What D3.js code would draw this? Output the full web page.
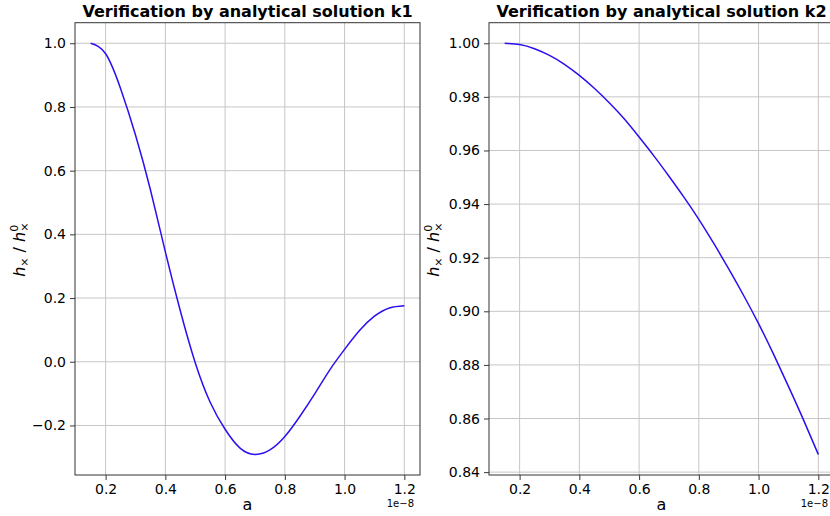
<!DOCTYPE html>
<html>
<head>
<meta charset="utf-8">
<script src="https://cdn.jsdelivr.net/npm/d3@7"></script>
<style>
  html, body { margin: 0; padding: 0; background: #fff; }
  #chart { width: 830px; height: 516px; }
  text { font-family: "DejaVu Sans", sans-serif; fill: #000; }
</style>
</head>
<body>
<div id="chart"></div>
<script>
// a values in units of 1e-8
const aValues = [0.15, 0.20, 0.25, 0.30, 0.35, 0.40, 0.45, 0.50, 0.55, 0.60, 0.65,
                 0.70, 0.75, 0.80, 0.85, 0.90, 0.95, 1.00, 1.05, 1.10, 1.15, 1.20];

const k1Values = [1.000, 0.967, 0.858, 0.712, 0.540, 0.345, 0.160, -0.003, -0.127, -0.212, -0.271,
                  -0.291, -0.277, -0.235, -0.172, -0.101, -0.026, 0.039, 0.098, 0.143, 0.169, 0.176];

const k2Values = [1.0000, 0.9995, 0.99795, 0.99545, 0.99215, 0.9880, 0.9832, 0.9778, 0.9718, 0.9650, 0.9579,
                  0.9504, 0.9426, 0.9343, 0.9253, 0.9158, 0.9059, 0.8954, 0.8840, 0.8720, 0.8596, 0.8466];

const xTicks = [0.2, 0.4, 0.6, 0.8, 1.0, 1.2];
const k1Ticks = [-0.2, 0.0, 0.2, 0.4, 0.6, 0.8, 1.0];
const k2Ticks = [0.84, 0.86, 0.88, 0.90, 0.92, 0.94, 0.96, 0.98, 1.00];

const panels = [
  { title: "Verification by analytical solution k1", values: k1Values, ticks: k1Ticks, fmt: ".1f", left: 75 },
  { title: "Verification by analytical solution k2", values: k2Values, ticks: k2Ticks, fmt: ".2f", left: 489 }
];

const W = 830, H = 516;
const plotW = 345, plotTop = 22.7, plotBottom = 475;

const svg = d3.select("#chart")
  .append("svg")
  .attr("width", W)
  .attr("height", H)
  .attr("viewBox", `0 0 ${W} ${H}`);

// matplotlib style 5% margins
function padded(ext) {
  const p = (ext[1] - ext[0]) * 0.05;
  return [ext[0] - p, ext[1] + p];
}

const minus = s => s.replace("-", "\u2212");

panels.forEach(p => {
  const x = d3.scaleLinear().domain(padded(d3.extent(aValues))).range([p.left, p.left + plotW]);
  const y = d3.scaleLinear().domain(padded(d3.extent(p.values))).range([plotBottom, plotTop]);
  const fmt = d3.format(p.fmt);

  const g = svg.append("g");

  // grid
  g.append("g").selectAll("line")
    .data(xTicks)
    .join("line")
    .attr("x1", d => x(d)).attr("x2", d => x(d))
    .attr("y1", plotTop).attr("y2", plotBottom)
    .attr("stroke", "#c6c6c6").attr("stroke-width", 1);

  g.append("g").selectAll("line")
    .data(p.ticks)
    .join("line")
    .attr("x1", p.left).attr("x2", p.left + plotW)
    .attr("y1", d => y(d)).attr("y2", d => y(d))
    .attr("stroke", "#c6c6c6").attr("stroke-width", 1);

  // curve
  const line = d3.line()
    .x((d, i) => x(aValues[i]))
    .y(d => y(d))
    .curve(d3.curveNatural);

  g.append("path")
    .datum(p.values)
    .attr("d", line)
    .attr("fill", "none")
    .attr("stroke", "#2a10f0")
    .attr("stroke-width", 1.5);

  // axes
  const xAxis = g.append("g")
    .attr("transform", `translate(0,${plotBottom})`)
    .call(d3.axisBottom(x).tickValues(xTicks).tickFormat(d3.format(".1f")).tickSize(5).tickPadding(4));

  const yAxis = g.append("g")
    .attr("transform", `translate(${p.left},0)`)
    .call(d3.axisLeft(y).tickValues(p.ticks).tickFormat(d => minus(fmt(d))).tickSize(5).tickPadding(4));

  [xAxis, yAxis].forEach(ax => {
    ax.select(".domain").remove();
    ax.selectAll("line").attr("stroke", "#222").attr("stroke-width", 0.9);
    ax.selectAll("text").style("font-size", "14px").attr("fill", "#000");
  });

  // frame
  g.append("rect")
    .attr("x", p.left).attr("y", plotTop)
    .attr("width", plotW).attr("height", plotBottom - plotTop)
    .attr("fill", "none")
    .attr("stroke", "#333")
    .attr("stroke-width", 1);

  // title
  g.append("text")
    .attr("x", p.left + plotW / 2)
    .attr("y", 17)
    .attr("text-anchor", "middle")
    .style("font-size", "16px")
    .style("font-weight", "bold")
    .text(p.title);

  // x label and offset
  g.append("text")
    .attr("x", p.left + plotW / 2)
    .attr("y", 510)
    .attr("text-anchor", "middle")
    .style("font-size", "16px")
    .text("a");

  g.append("text")
    .attr("x", p.left + plotW - 6)
    .attr("y", 507)
    .attr("text-anchor", "end")
    .style("font-size", "10px")
    .text("1e\u22128");

  // y label: h_x / h_x^0
  const yl = g.append("text")
    .attr("transform", `translate(${p.left - 55},${(plotTop + plotBottom) / 2}) rotate(-90)`)
    .attr("x", -28)
    .attr("y", 5)
    .style("font-size", "16px");

  yl.append("tspan").style("font-style", "italic").text("h");
  yl.append("tspan").style("font-size", "11px").attr("dy", 3).text("\u00d7");
  yl.append("tspan").attr("dy", -3).text(" / ");
  yl.append("tspan").style("font-style", "italic").text("h");
  yl.append("tspan").style("font-size", "11px").attr("dy", -7).text("0");
  yl.append("tspan").style("font-size", "11px").attr("dx", -7).attr("dy", 10).text("\u00d7");
});
</script>
</body>
</html>
